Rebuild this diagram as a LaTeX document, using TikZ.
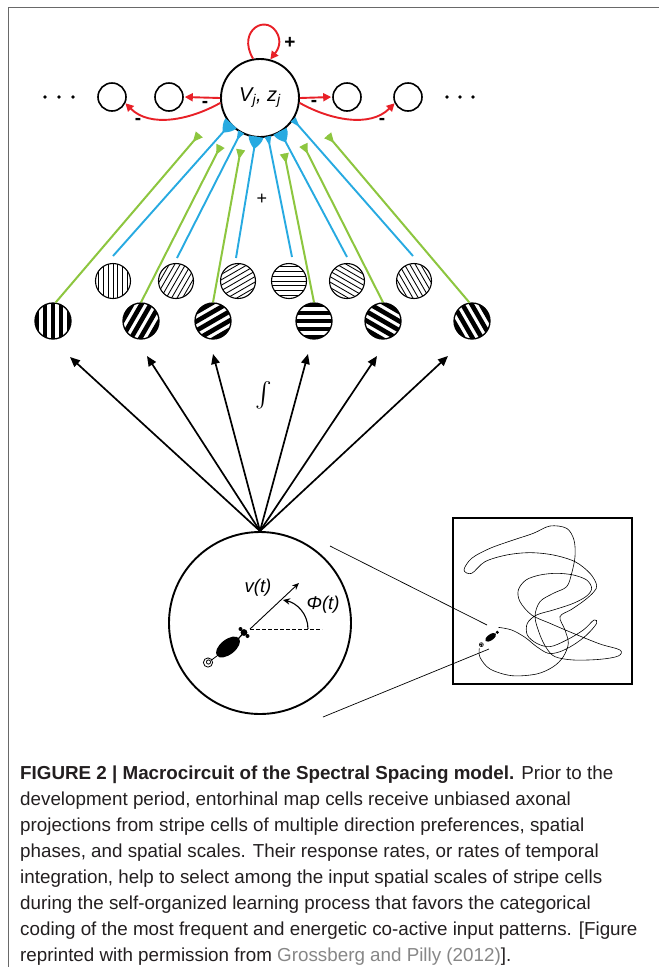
\documentclass[tikz,border=0pt]{standalone}
\usepackage{exscale}
\usepackage{fontspec}
\setmainfont{Liberation Sans}
\usetikzlibrary{arrows.meta}

\definecolor{exred}{RGB}{232,32,39}
\definecolor{inblue}{RGB}{39,170,225}
\definecolor{ingreen}{RGB}{141,198,63}
\definecolor{framegray}{RGB}{105,105,105}
\definecolor{citegray}{RGB}{135,135,135}
\definecolor{captext}{RGB}{35,31,32}

\tikzset{
  cell/.style={circle, draw, line width=1.6pt, minimum size=28pt, inner sep=0pt},
  fine ring/.style={circle, draw, line width=1.1pt, minimum size=35pt, inner sep=0pt},
  coarse ring/.style={circle, draw, line width=1.3pt, minimum size=36pt, inner sep=0pt},
  redarrow/.style={exred, line width=1.9pt, -{Triangle[length=8pt,width=8pt]}},
  inarrow/.style={line width=1.7pt, -{Triangle[length=10pt,width=8.5pt]}},
  gline/.style={ingreen, line width=2pt},
  bline/.style={inblue, line width=1.9pt},
  green knob/.pic={\fill[ingreen] (0pt,-4.6pt) -- (0pt,4.6pt) -- (7.5pt,1.1pt) -- (7.5pt,-1.1pt) -- cycle;},
  blue knob/.pic={\fill[inblue] (0pt,-3.4pt) -- (0pt,3.4pt) -- (7pt,1pt) -- (7pt,-1pt) -- cycle;},
  blue cup/.pic={\fill[inblue] (0pt,-7.5pt) -- (0pt,7.5pt) .. controls (5pt,7pt) and (9pt,3.5pt) .. (11.5pt,1pt)
      -- (11.5pt,-1pt) .. controls (9pt,-3.5pt) and (5pt,-7pt) .. (0pt,-7.5pt) -- cycle;},
  caption/.style={anchor=base west, inner sep=0pt, text=captext, font=\fontsize{18.8}{22}\selectfont},
  sign/.style={inner sep=0pt, font=\bfseries\fontsize{19}{19}\selectfont},
}

\begin{document}
\begin{tikzpicture}[x=1pt, y=-1pt]
\useasboundingbox (0,0) rectangle (659,967);
\fill[white] (0,0) rectangle (659,967);

% figure frame
\draw[framegray, line width=1.4pt] (8.3,967) -- (8.3,7.3) -- (659,7.3);

% map cell layer
\node[cell, minimum size=78pt, line width=1.9pt, font=\fontsize{20}{20}\selectfont] (vz) at (260,98)
  {\itshape V\textsubscript{\itshape j}, z\textsubscript{\itshape j}};
\node[cell] (n1) at (112,97) {};
\node[cell] (n2) at (169,97) {};
\node[cell] (n3) at (347,97) {};
\node[cell] (n4) at (408,97) {};
\foreach \x in {45,59,73,447,460,473} \fill (\x,97) circle (1.9);

% recurrent excitation and lateral inhibition
\draw[redarrow] (vz.100) .. controls (236,30) and (268,12) .. (278,35) .. controls (282,45) and (276,52) .. (vz.75);
\node[sign] (plus1) at (290,43) {+};
\draw[redarrow, shorten >=1pt] (vz.180) -- (n2.east);
\draw[redarrow, shorten >=1pt] (vz.0) -- (n3.west);
\draw[redarrow] (vz.187) .. controls (190,120) and (150,128) .. (n1.-25);
\draw[redarrow] (vz.-7) .. controls (330,120) and (370,128) .. (n4.-155);
\node[sign, anchor=base] (m1) at (205,107) {-};
\node[sign, anchor=base] (m2) at (138,124) {-};
\node[sign, anchor=base] (m3) at (314,106) {-};
\node[sign, anchor=base] (m4) at (382,124) {-};

% stripe cells: fine spatial scale (thin stripes)
\foreach \cx/\ang [count=\i] in {113/90,176/60,238/30,289/0,347/-30,414/-60} {
  \begin{scope}
    \clip (\cx,281) circle (17.5);
    \begin{scope}[shift={(\cx,281)}, rotate=\ang]
      \foreach \k in {-3,...,3} \draw[line width=0.85pt] (-22,\k*4.7) -- (22,\k*4.7);
    \end{scope}
  \end{scope}
  \node[fine ring] (u\i) at (\cx,281) {};
}
% stripe cells: coarse spatial scale (thick bands)
\foreach \cx/\ang [count=\i] in {53/90,141/60,213/30,314/0,383/-30,472/-60} {
  \begin{scope}
    \clip (\cx,321) circle (18);
    \begin{scope}[shift={(\cx,321)}, rotate=\ang]
      \foreach \k in {-2,...,2} \fill (-22,\k*8-2.3) rectangle (22,\k*8+2.3);
    \end{scope}
  \end{scope}
  \node[coarse ring] (l\i) at (\cx,321) {};
}

% blue projections from fine stripe cells
\coordinate (b1s) at (113,256); \coordinate (b1e) at (231.1,123.2);
\coordinate (b2s) at (177,258); \coordinate (b2e) at (241.1,131.9);
\coordinate (b3s) at (236,258); \coordinate (b3e) at (256.1,136.6);
\coordinate (b4s) at (292,257); \coordinate (b4e) at (267.9,136.5);
\coordinate (b5s) at (347,257); \coordinate (b5e) at (280.0,131.3);
\coordinate (b6s) at (413,256); \coordinate (b6e) at (293.1,119.5);
\draw[bline] (b1e) -- (b1s) pic[pos=0, sloped, allow upside down]{blue cup};
\draw[bline] (b2e) -- (b2s) pic[pos=0, sloped, allow upside down]{blue knob};
\draw[bline] (b3e) -- (b3s) pic[pos=0, sloped, allow upside down]{blue cup};
\draw[bline] (b4e) -- (b4s) pic[pos=0, sloped, allow upside down]{blue knob};
\draw[bline] (b5e) -- (b5s) pic[pos=0, sloped, allow upside down]{blue cup};
\draw[bline] (b6e) -- (b6s) pic[pos=0, sloped, allow upside down]{blue knob};

% green projections from coarse stripe cells
\coordinate (g1e) at (199.3,134.4);
\coordinate (g2e) at (220.6,145.9);
\coordinate (g3e) at (240.7,149.6);
\coordinate (g4e) at (284.3,153.6);
\coordinate (g5e) at (303.4,144.9);
\coordinate (g6e) at (327.7,135.3);
\draw[gline] (g1e) -- (l1.82) pic[pos=0, sloped, allow upside down]{green knob};
\draw[gline] (g2e) -- (l2.north) pic[pos=0, sloped, allow upside down]{green knob};
\draw[gline] (g3e) -- (l3.north) pic[pos=0, sloped, allow upside down]{green knob};
\draw[gline] (g4e) -- (l4.north) pic[pos=0, sloped, allow upside down]{green knob};
\draw[gline] (g5e) -- (l5.north) pic[pos=0, sloped, allow upside down]{green knob};
\draw[gline] (g6e) -- (l6.98) pic[pos=0, sloped, allow upside down]{green knob};

\node[inner sep=0pt, font=\fontsize{18}{18}\selectfont] (plus2) at (262,199) {+};

% path integration from the arena
\node[circle, draw, line width=1.9pt, minimum size=182pt, inner sep=0pt] (arena) at (260,623) {};
\coordinate (t1) at (70,357);
\coordinate (t2) at (147,356);
\coordinate (t3) at (213,354);
\coordinate (t4) at (308,354);
\coordinate (t5) at (377,356);
\coordinate (t6) at (448,356);
\foreach \t in {t1,t2,t3,t4,t5,t6} \draw[inarrow] (arena.north) -- (\t);
\node[inner sep=0pt, font=\fontsize{28}{28}\selectfont] (integ) at (264,395) {$\int$};

% animal with heading vector and direction angle
\coordinate (origin) at (250,629);
\coordinate (vtip) at (299,583);
\coordinate (ref) at (322,629);
\fill[rotate around={38:(228,647)}] (228,647) ellipse (14 and 7.5);
\fill (244,632.5) circle (3.4);
\fill (240.5,629) circle (2);
\fill (247.5,636) circle (2);
\draw[line width=1.2pt] (238,639) -- (244,632.5);
\draw[line width=0.8pt] (217,656) .. controls (214,658) and (213,659) .. (211.5,660);
\draw[line width=0.8pt] (208,662.5) circle (4.6);
\draw[line width=0.8pt] (208.5,662) circle (2.1);
\draw[line width=0.9pt, -{Stealth[length=7pt,width=6pt]}] (origin) -- (vtip);
\draw[line width=0.9pt, dash pattern=on 3.5pt off 2.5pt] (origin) -- (ref);
\draw[line width=1.1pt, -{Stealth[length=7pt,width=6.5pt]}] (308,629) .. controls (308,614) and (297,603) .. (283,600);
\node[font=\itshape\fontsize{18.5}{18.5}\selectfont] (vlab) at (258,588) {v(t)};
\node[font=\itshape\fontsize{18.5}{18.5}\selectfont] (philab) at (323,605) {Φ(t)};

% sample trajectory
\node[draw, line width=2.4pt, minimum width=179pt, minimum height=166pt, inner sep=0pt] (track) at (542.5,601) {};
\coordinate (z1) at (330,546); \coordinate (z2) at (487,625);
\coordinate (z3) at (323,717); \coordinate (z4) at (489,649);
\draw[line width=0.7pt] (z1) -- (z2);
\draw[line width=0.7pt] (z3) -- (z4);
\begin{scope}[shift={(440,520)}, x=0.3333pt, y=-0.3333pt]
  \draw[line width=0.6pt] plot[smooth, tension=0.55] coordinates {
    (175,322) (215,330) (255,352) (290,380) (325,400) (360,395) (400,375) (440,345)
    (470,310) (462,300) (430,330) (380,360) (330,380) (290,370) (262,345) (262,310)
    (290,285) (340,270) (400,250) (440,228) (455,205) (440,180) (400,165) (350,160)
    (300,165) (258,180) (235,210) (240,245) (275,285) (330,310) (400,340) (480,372)
    (540,390) (535,408) (480,418) (400,420) (345,410) (320,385) (300,345) (285,290)
    (300,245) (340,220) (380,200) (395,160) (405,110) (402,60) (380,25) (330,18)
    (280,40) (220,60) (150,85) (95,115) (72,150) (95,160) (135,125) (200,105)
    (270,98) (340,105) (405,125) (450,160) (470,195) (462,215) (435,240) (395,268)
    (360,290) (375,330) (385,370) (370,410) (340,440) (290,462) (215,467) (150,447)
    (120,412) (118,385)};
  \fill[rotate around={35:(152,352)}] (152,352) ellipse (19 and 9);
  \fill (172,337) circle (5);
  \draw[line width=0.6pt] (124,374) circle (6);
  \draw[line width=0.6pt] (124,374) circle (2.5);
\end{scope}

% caption
\node[caption] (c1) at (20,779) {\textbf{FIGURE 2 | Macrocircuit of the Spectral Spacing model.} Prior to the};
\node[caption] (c2) at (20,805.1) {development period, entorhinal map cells receive unbiased axonal};
\node[caption] (c3) at (20,831.2) {projections from stripe cells of multiple direction preferences, spatial};
\node[caption] (c4) at (20,857.3) {phases, and spatial scales. Their response rates, or rates of temporal};
\node[caption] (c5) at (20,883.4) {integration, help to select among the input spatial scales of stripe cells};
\node[caption] (c6) at (20,909.5) {during the self-organized learning process that favors the categorical};
\node[caption] (c7) at (20,935.6) {coding of the most frequent and energetic co-active input patterns. [Figure};
\node[caption] (c8) at (20,961.7) {reprinted with permission from \textcolor{citegray}{Grossberg and Pilly (2012)}].};
\end{tikzpicture}
\end{document}
